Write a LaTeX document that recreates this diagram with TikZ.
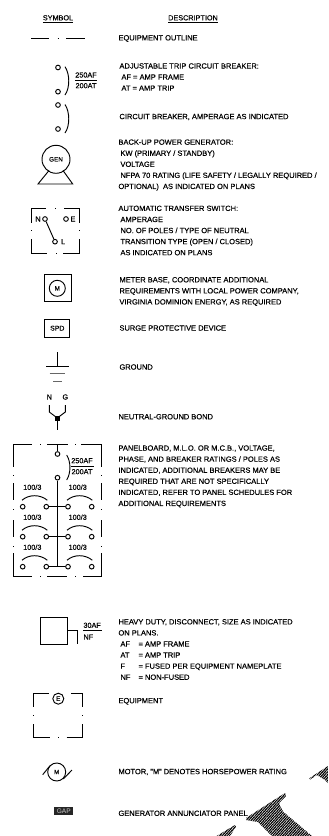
\documentclass[tikz,border=0pt]{standalone}
\usepackage{fontspec}
\setmainfont{Liberation Sans}[BoldFont={Liberation Sans},BoldFeatures={FakeBold=0.35}]
\usetikzlibrary{patterns.meta}

\tikzset{
  legendtext/.style={anchor=west, inner sep=0pt, align=left, font=\fontsize{6.4}{9.45}\selectfont\bfseries},
  symboltext/.style={inner sep=0pt, font=\fontsize{6.2}{7}\selectfont\bfseries},
  termnode/.style={circle, draw, inner sep=0pt, minimum size=0.14cm},
  hatchshape/.style={pattern={Lines[angle=48, distance=1.6pt, line width=1pt]}, pattern color=black}
}

\begin{document}
\begin{tikzpicture}[x=0.03cm, y=-0.03cm, line width=0.8pt]
\useasboundingbox (0,0) rectangle (328,836);

% headings
\node[symboltext] (headsymbol) at (58,19) {\underline{SYMBOL}};
\node[symboltext] (headdesc) at (193,19) {\underline{DESCRIPTION}};

% equipment outline
\draw (31,38.7) -- (49,38.7);
\draw (57.5,38.7) -- (58.5,38.7);
\draw (66,38.7) -- (85,38.7);
\node[legendtext] (outlinetext) at (118,38.5) {EQUIPMENT OUTLINE};

% adjustable trip breaker
\node[termnode] (atop) at (58,67.5) {};
\node[termnode] (abot) at (58,91.7) {};
\draw (65,66.7) .. controls (70,74) and (70,88) .. (65,95);
\node[symboltext] (afa) at (86,75) {250AF};
\node[symboltext] (ata) at (86,85.7) {200AT};
\draw (75,80.2) -- (97,80.2);
\node[legendtext] (atbtext) at (119,77) {ADJUSTABLE TRIP CIRCUIT BREAKER:\\\hspace*{1.7pt}AF = AMP FRAME\\\hspace*{1.7pt}AT = AMP TRIP};

% breaker
\node[termnode] (btop) at (58,105) {};
\node[termnode] (bbot) at (58,129) {};
\draw (65,104.5) .. controls (70,112) and (70,126) .. (65,133);
\node[legendtext] (cbtext) at (119,117) {CIRCUIT BREAKER, AMPERAGE AS INDICATED};

% generator
\node[circle, draw, inner sep=0pt, minimum size=0.84cm, font=\fontsize{5.4}{6}\selectfont\bfseries] (gen) at (56,159.3) {GEN};
\draw (49,170.5) -- (38,184) -- (72.7,184) -- (63,170.5);
\node[legendtext] (gentext) at (118,165) {BACK-UP POWER GENERATOR:\\\hspace*{1.7pt}KW (PRIMARY / STANDBY)\\\hspace*{1.7pt}VOLTAGE\\\hspace*{1.7pt}NFPA 70 RATING (LIFE SAFETY / LEGALLY REQUIRED /\\OPTIONAL)\ \ AS INDICATED ON PLANS};

% transfer switch
\draw (31,222.7) -- (31,208) -- (46,208);
\draw (64,208) -- (79.7,208) -- (79.7,222.7);
\draw (31,239) -- (31,253) -- (47,253);
\draw (63,253) -- (79.7,253) -- (79.7,239);
\foreach \px/\py in {55/208,56/253,31/230,79.7/230}
  \fill (\px-0.5,\py-0.5) rectangle (\px+0.5,\py+0.5);
\node[termnode] (atsn) at (45,219) {};
\node[termnode] (atse) at (66,219) {};
\node[termnode] (atsl) at (55,241.7) {};
\draw (atsn) -- (atsl);
\node[symboltext] (labn) at (38,219) {N};
\node[symboltext] (labe) at (73,219) {E};
\node[symboltext] (labl) at (63,241.7) {L};
\node[legendtext] (atstext) at (118,230.5) {AUTOMATIC TRANSFER SWITCH:\\\hspace*{1.7pt}AMPERAGE\\\hspace*{1.7pt}NO. OF POLES / TYPE OF NEUTRAL\\\hspace*{1.7pt}TRANSITION TYPE (OPEN / CLOSED)\\\hspace*{1.7pt}AS INDICATED ON PLANS};

% meter
\draw (44,274.7) rectangle (71,301.3);
\node[circle, draw, inner sep=0pt, minimum size=0.48cm, font=\fontsize{5.6}{6}\selectfont\bfseries] (meter) at (57.3,288.3) {M};
\node[legendtext] (metertext) at (119,291.5) {METER BASE, COORDINATE ADDITIONAL\\REQUIREMENTS WITH LOCAL POWER COMPANY,\\VIRGINIA DOMINION ENERGY, AS REQUIRED};

% spd
\node[draw, minimum width=0.74cm, minimum height=0.55cm, inner sep=0pt, font=\fontsize{5.9}{6}\selectfont\bfseries] (spd) at (57.3,328.2) {SPD};
\node[legendtext] (spdtext) at (119,328) {SURGE PROTECTIVE DEVICE};

% ground
\draw (57.7,352.3) -- (57.7,366.7);
\draw (46,366.7) -- (69,366.7);
\draw[black!60] (49.5,373.7) -- (65,373.7);
\draw[black!60] (53,381) -- (62,381);
\node[legendtext] (groundtext) at (119,367) {GROUND};

% bond
\node[symboltext] (bondn) at (49.3,397) {N};
\node[symboltext] (bondg) at (65.3,397) {G};
\coordinate (bondc) at (57.3,418);
\coordinate (bondb) at (57.3,430);
\draw (49.3,405) -- (49.3,412) -- (bondc) -- (65.3,412) -- (65.3,405);
\draw (bondc) -- (bondb);
\fill (55,416) rectangle (59.6,421);
\node[legendtext] (bondtext) at (118,416.7) {NEUTRAL-GROUND BOND};

% panelboard
\draw (13.5,466.7) -- (13.5,444.7) -- (32,444.7);
\draw (47,444.7) -- (68,444.7);
\draw (81,444.7) -- (101,444.7) -- (101,466.7);
\draw (13.5,483) -- (13.5,500);
\draw (101,483) -- (101,500);
\draw (13.5,520) -- (13.5,536.7);
\draw (101,520) -- (101,536.7);
\draw (13.5,553) -- (13.5,576) -- (32,576);
\draw (47,576) -- (67,576);
\draw (83,576) -- (101,576) -- (101,553);
\foreach \px/\py in {40/444.7,75/444.7,40/576,75/576,13.5/475,101/475,13.5/509,101/509,13.5/546,101/546}
  \fill (\px-0.5,\py-0.5) rectangle (\px+0.5,\py+0.5);
\coordinate (bustop) at (57.5,444.7);
\node[termnode] (ptop) at (57.5,454) {};
\node[termnode] (pbot) at (57.5,477.7) {};
\draw (bustop) -- (ptop);
\draw (66.7,455) .. controls (71,462) and (71,473) .. (66.7,480);
\node[symboltext] (afp) at (82,460.7) {250AF};
\node[symboltext] (atp) at (82,471.7) {200AT};
\draw (71,466) -- (94,466);
\foreach \rowname/\rowy in {a/506.7,b/536.7,c/566.7} {
  \node[termnode] (\rowname one) at (22.7,\rowy) {};
  \node[termnode] (\rowname two) at (46.3,\rowy) {};
  \node[termnode] (\rowname three) at (68,\rowy) {};
  \node[termnode] (\rowname four) at (91.7,\rowy) {};
  \draw (\rowname two) -- (\rowname three);
  \draw (22,\rowy-6.5) .. controls (29,\rowy-12.5) and (40,\rowy-12.5) .. (47.3,\rowy-6.5);
  \draw (67,\rowy-6.5) .. controls (74,\rowy-12.5) and (85,\rowy-12.5) .. (92.3,\rowy-6.5);
  \node[symboltext] (\rowname left) at (32.3,\rowy-19.5) {100/3};
  \node[symboltext] (\rowname right) at (77.7,\rowy-19.5) {100/3};
}
\draw[line width=1pt] (pbot) -- (57.5,566.7);
\node[legendtext] (paneltext) at (118,476.4) {PANELBOARD, M.L.O. OR M.C.B., VOLTAGE,\\PHASE, AND BREAKER RATINGS / POLES AS\\INDICATED, ADDITIONAL BREAKERS MAY BE\\REQUIRED THAT ARE NOT SPECIFICALLY\\INDICATED, REFER TO PANEL SCHEDULES FOR\\ADDITIONAL REQUIREMENTS};

% disconnect
\draw (40.7,617.3) rectangle (67.7,644);
\draw (67.7,630) -- (77,630) -- (77,644);
\node[symboltext, anchor=west] (afd) at (83,625.3) {30AF};
\node[symboltext, anchor=west] (nfd) at (83,637) {NF};
\draw (83,630) -- (101.5,630);
\node[legendtext] (disctext) at (118,649.5) {HEAVY DUTY, DISCONNECT, SIZE AS INDICATED\\ON PLANS.\\\hspace*{1.7pt}\makebox[15.4pt][l]{AF}= AMP FRAME\\\hspace*{1.7pt}\makebox[15.4pt][l]{AT}= AMP TRIP\\\hspace*{1.7pt}\makebox[15.4pt][l]{F}= FUSED PER EQUIPMENT NAMEPLATE\\\hspace*{1.7pt}\makebox[15.4pt][l]{NF}= NON-FUSED};

% equipment
\draw (33.7,706.7) -- (33.7,693.3) -- (49.3,693.3);
\draw (71.3,693.3) -- (82.3,693.3) -- (82.3,706.7);
\draw (33.7,724) -- (33.7,737.7) -- (50,737.7);
\draw (66.7,737.7) -- (82.3,737.7) -- (82.3,724);
\foreach \px/\py in {58/737.7,33.7/715.3,82.3/715.3}
  \fill (\px-0.5,\py-0.5) rectangle (\px+0.5,\py+0.5);
\node[circle, draw, inner sep=0pt, minimum size=0.33cm, font=\fontsize{5.6}{6}\selectfont\bfseries] (equip) at (58.3,698.7) {E};
\node[legendtext] (equiptext) at (118,701.3) {EQUIPMENT};

% motor
\node[circle, draw, inner sep=0pt, minimum size=0.54cm, font=\fontsize{5.2}{6}\selectfont\bfseries] (motor) at (56.7,772) {M};
\draw (42.7,774.7) -- (50,765.7);
\draw (63.3,779) -- (72,770);
\node[legendtext] (motortext) at (118,772) {MOTOR, "M" DENOTES HORSEPOWER RATING};

% annunciator
\node[fill=black!85, text=white!80!black, minimum width=0.58cm, minimum height=0.23cm, inner sep=0pt, font=\fontsize{5.6}{6}\selectfont] (gap) at (63.7,811.2) {GAP};
\node[legendtext] (gaptext) at (118,813.3) {GENERATOR ANNUNCIATOR PANEL};

% hatched shapes at the bottom corner
\fill[hatchshape] (246,818) -- (285,793) -- (286,796) -- (279,803) -- (283,811.5) -- (312,836) -- (272,836) -- (258,822) -- (246,820) -- cycle;
\fill[hatchshape] (216.7,836) -- (235,825) -- (236,826.7) -- (230,836) -- cycle;
\fill[hatchshape] (309.3,778.3) -- (328,766) -- (328,783) -- (325,780) -- (317,775) -- (310,779.5) -- cycle;
\end{tikzpicture}
\end{document}
